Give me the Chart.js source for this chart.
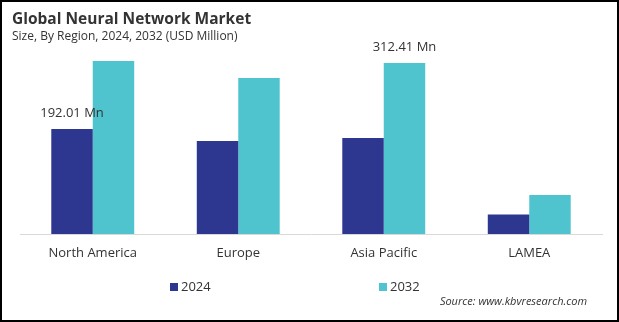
<!DOCTYPE html>
<html>
<head>
<meta charset="utf-8">
<script src="https://cdn.jsdelivr.net/npm/chart.js@4"></script>
<style>
    html, body { margin: 0; padding: 0; background: #fff; }
    #wrap { width: 619px; height: 322px; position: relative; }
</style>
</head>
<body>
<div id="wrap"><canvas id="myChart" width="619" height="322"></canvas></div>
<script>
const regions = ['North America', 'Europe', 'Asia Pacific', 'LAMEA']
const years = ['2024', '2032']
const values2024 = [192.01, 170.0, 175.5, 35.5]
const values2032 = [316.4, 285.3, 312.41, 71.3]
const colors = ['#2e3790', '#4fc4cf']
// [dataset, index] pairs that carry a value label
const labelled = [[0, 0], [1, 2]]

const fontFamily = '"Open Sans", "Noto Sans", sans-serif'
const textColor = '#333333'

const extras = {
    id: 'extras',
    afterDatasetsDraw(chart) {
        const ctx = chart.ctx
        ctx.save()
        ctx.fillStyle = textColor
        ctx.textAlign = 'center'
        ctx.textBaseline = 'middle'
        ctx.font = '13px ' + fontFamily
        for (const [d, i] of labelled) {
            const bar = chart.getDatasetMeta(d).data[i]
            const v = chart.data.datasets[d].data[i]
            ctx.fillText(v.toFixed(2) + ' Mn', bar.x, bar.y - 16)
        }

        // legend
        const legendX = [170, 379]
        chart.data.datasets.forEach((ds, k) => {
            ctx.fillStyle = ds.backgroundColor
            ctx.fillRect(legendX[k], 283, 8, 8)
            ctx.fillStyle = textColor
            ctx.textAlign = 'left'
            ctx.font = '13px ' + fontFamily
            ctx.fillText(ds.label, legendX[k] + 11, 287)
        })

        // source
        ctx.textAlign = 'right'
        ctx.font = 'italic 11px ' + fontFamily
        ctx.fillText('Source: www.kbvresearch.com', 587, 302)

        // frame
        ctx.strokeStyle = '#000'
        ctx.lineWidth = 2
        ctx.strokeRect(1, 1, 617, 320)
        ctx.restore()
    }
}

const ctx = document.getElementById('myChart').getContext('2d')
window.myChart = new Chart(ctx, {
    type: 'bar',
    data: {
        labels: regions,
        datasets: [
            { label: years[0], data: values2024, backgroundColor: colors[0] },
            { label: years[1], data: values2032, backgroundColor: colors[1] }
        ]
    },
    options: {
        responsive: false,
        animation: false,
        layout: { padding: { left: 12, right: 17, top: 0, bottom: 50.4 } },
        datasets: {
            bar: { categoryPercentage: 0.57, barPercentage: 1.0 }
        },
        plugins: {
            legend: { display: false },
            tooltip: { enabled: false },
            title: {
                display: true,
                text: 'Global Neural Network Market',
                align: 'start',
                color: textColor,
                font: { family: fontFamily, size: 15.5, weight: 'bold', lineHeight: 1.2 },
                padding: { top: 10, bottom: 1 }
            },
            subtitle: {
                display: true,
                text: 'Size, By Region, 2024, 2032 (USD Million)',
                align: 'start',
                color: textColor,
                font: { family: fontFamily, size: 12, lineHeight: 1.2 },
                padding: { top: 0, bottom: 4 }
            }
        },
        scales: {
            x: {
                grid: { display: false, drawTicks: false },
                border: { display: true, color: '#d9d9d9', width: 1 },
                ticks: {
                    color: textColor,
                    padding: 11,
                    font: { family: fontFamily, size: 13, lineHeight: 1.2 }
                }
            },
            y: {
                min: 0,
                max: 340,
                grid: { display: false, drawTicks: false },
                border: { display: false },
                ticks: { display: false },
                afterFit(scale) { scale.width = 8 }
            }
        }
    },
    plugins: [extras]
})
</script>
</body>
</html>
